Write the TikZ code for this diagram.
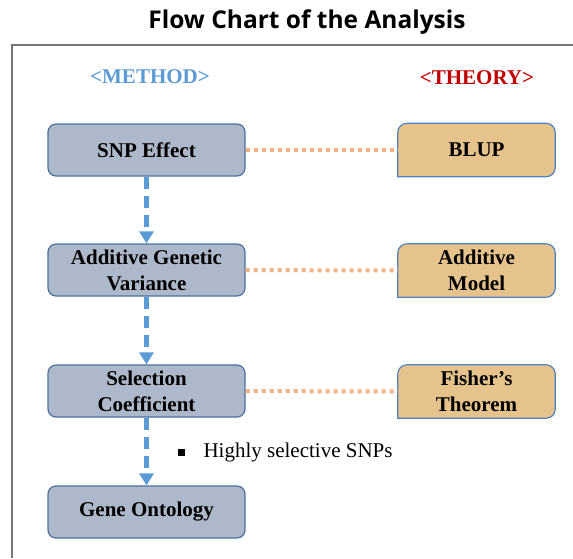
\documentclass[tikz,border=0pt]{standalone}
\usepackage{fontspec}
\setmainfont{Liberation Serif}
\newfontfamily\headfont{Open Sans}
\usepackage{tikz}
\usetikzlibrary{arrows.meta, backgrounds}
\definecolor{methodBlue}{RGB}{91, 155, 213}
\definecolor{methodFill}{RGB}{173, 185, 202}
\definecolor{methodLine}{RGB}{74, 112, 160}
\definecolor{theoryRed}{RGB}{192, 0, 0}
\definecolor{theoryFill}{RGB}{230, 195, 140}
\definecolor{theoryLine}{RGB}{84, 130, 190}
\definecolor{linkOrange}{RGB}{244, 177, 131}
\definecolor{frameGray}{RGB}{118, 118, 118}

\begin{document}
\begin{tikzpicture}[x=1pt, y=-1pt,
  method/.style={rectangle, rounded corners=8pt, draw=methodLine, line width=1.2pt,
                 fill=methodFill, minimum width=197pt, minimum height=52pt,
                 align=center, font=\fontsize{21}{26}\selectfont\bfseries},
  theory/.style={rectangle, minimum width=157pt, minimum height=53pt,
                 align=center, font=\fontsize{21}{26}\selectfont\bfseries},
  tbox/.style={draw=theoryLine, line width=1.2pt, fill=theoryFill},
  head/.style={font=\fontsize{21}{22}\selectfont\bfseries},
  flow/.style={-{Triangle[length=12pt, width=14pt]}, line width=4.5pt,
               methodBlue, dash pattern=on 12pt off 7pt},
  link/.style={line width=4pt, linkOrange, dash pattern=on 4pt off 4pt},
]
  \useasboundingbox (0,0) rectangle (573,558);

  % Title and frame
  \node[font=\headfont\fontsize{24.5}{28}\selectfont\bfseries] (title) at (307,22)
    {Flow Chart of the Analysis};
  \draw[frameGray, line width=1.5pt] (12,558) -- (12,45) -- (573,45);

  % Column headers
  \node[head, methodBlue] (hmethod) at (150,77) {<METHOD>};
  \node[head, theoryRed]  (htheory) at (477,78) {<THEORY>};

  % Method steps
  \node[method] (snp) at (146.5,150) {SNP Effect};
  \node[method] (agv) at (146.5,270) {Additive Genetic\\Variance};
  \node[method] (sel) at (146.5,391) {Selection\\Coefficient};
  \node[method] (go)  at (146.5,512) {Gene Ontology};

  % Theory boxes
  \node[theory] (blup)   at (476.5,150) {BLUP};
  \node[theory] (addmod) at (476.5,270.5) {Additive\\Model};
  \node[theory] (fisher) at (476.5,391.5) {Fisher's\\Theorem};

  % rounded top, square bottom
  \begin{scope}[on background layer]
    \foreach \t in {blup, addmod, fisher} {
      \draw[tbox] (\t.south west) [rounded corners=9pt] |- (\t.north)
        -| (\t.south east) [sharp corners] -- cycle;
    }
  \end{scope}

  % Flow between steps
  \draw[flow] (snp) -- (agv);
  \draw[flow] (agv) -- (sel);
  \draw[flow] (sel) -- (go);

  % Method to theory links
  \draw[link] (snp) -- (blup);
  \draw[link] (agv) -- (addmod);
  \draw[link] (sel) -- (fisher);

  % Note on the last step
  \node[anchor=west, font=\fontsize{21}{24}\selectfont] (note) at (174,452)
    {\rule[1pt]{7pt}{7pt}\hspace{19pt}Highly selective SNPs};
\end{tikzpicture}
\end{document}
